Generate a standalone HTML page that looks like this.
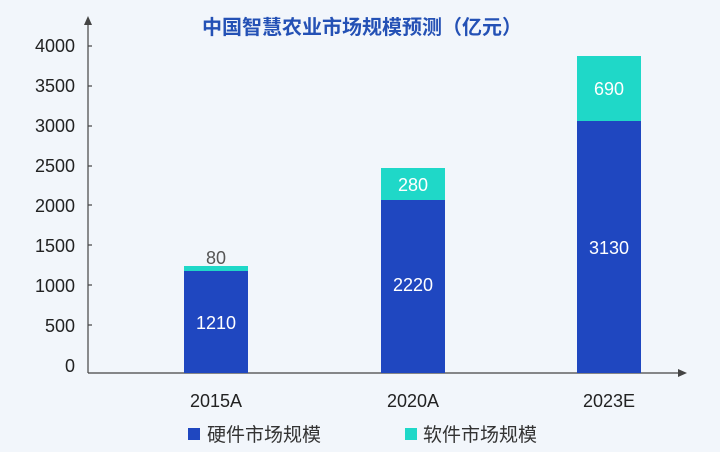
<!DOCTYPE html>
<html><head><meta charset="utf-8"><style>
body{margin:0;background:#f2f6fb;}
svg{display:block;font-family:"Liberation Sans","Noto Sans CJK SC",sans-serif;}
</style></head><body>
<svg width="720" height="452" viewBox="0 0 720 452">
<rect width="720" height="452" fill="#f2f6fb"/>
<text x="362" y="34" text-anchor="middle" font-size="20" font-weight="bold" fill="#2451b5" font-family="'Noto Sans CJK SC',sans-serif">中国智慧农业市场规模预测（亿元）</text>
<g stroke="#444" stroke-width="1.2">
<line x1="88" y1="22" x2="88" y2="373"/>
<line x1="88" y1="373" x2="680" y2="373"/>
<line x1="88" y1="46" x2="92" y2="46"/><line x1="88" y1="86" x2="92" y2="86"/><line x1="88" y1="126" x2="92" y2="126"/><line x1="88" y1="166" x2="92" y2="166"/><line x1="88" y1="205" x2="92" y2="205"/><line x1="88" y1="245" x2="92" y2="245"/><line x1="88" y1="285" x2="92" y2="285"/><line x1="88" y1="325" x2="92" y2="325"/>
</g>
<polygon points="88,16 84,25 92,25" fill="#444"/>
<polygon points="687,373 678,369 678,377" fill="#444"/>
<g font-size="18" fill="#222" text-anchor="end">
<text x="75" y="52">4000</text><text x="75" y="92">3500</text><text x="75" y="132">3000</text><text x="75" y="172">2500</text><text x="75" y="212">2000</text><text x="75" y="252">1500</text><text x="75" y="292">1000</text><text x="75" y="332">500</text><text x="75" y="372">0</text>
</g>
<rect x="184" y="266" width="64" height="5" fill="#1fd8c8"/>
<rect x="184" y="271" width="64" height="102" fill="#1f47c0"/>
<rect x="381" y="168" width="64" height="32" fill="#1fd8c8"/>
<rect x="381" y="200" width="64" height="173" fill="#1f47c0"/>
<rect x="577" y="56" width="64" height="65" fill="#1fd8c8"/>
<rect x="577" y="121" width="64" height="252" fill="#1f47c0"/>
<g font-size="18" text-anchor="middle">
<text x="216" y="264" fill="#555">80</text>
<text x="216" y="329" fill="#fff">1210</text>
<text x="413" y="191" fill="#fff">280</text>
<text x="413" y="291" fill="#fff">2220</text>
<text x="609" y="95" fill="#fff">690</text>
<text x="609" y="254" fill="#fff">3130</text>
<g fill="#222"><text x="216" y="407">2015A</text><text x="413" y="407">2020A</text><text x="609" y="407">2023E</text></g>
</g>
<rect x="188" y="428" width="12" height="12" fill="#1f47c0"/>
<text x="207" y="441" font-size="19" fill="#333" font-family="'Noto Sans CJK SC',sans-serif">硬件市场规模</text>
<rect x="405" y="428" width="12" height="12" fill="#1fd8c8"/>
<text x="423" y="441" font-size="19" fill="#333" font-family="'Noto Sans CJK SC',sans-serif">软件市场规模</text>
</svg>
</body></html>
